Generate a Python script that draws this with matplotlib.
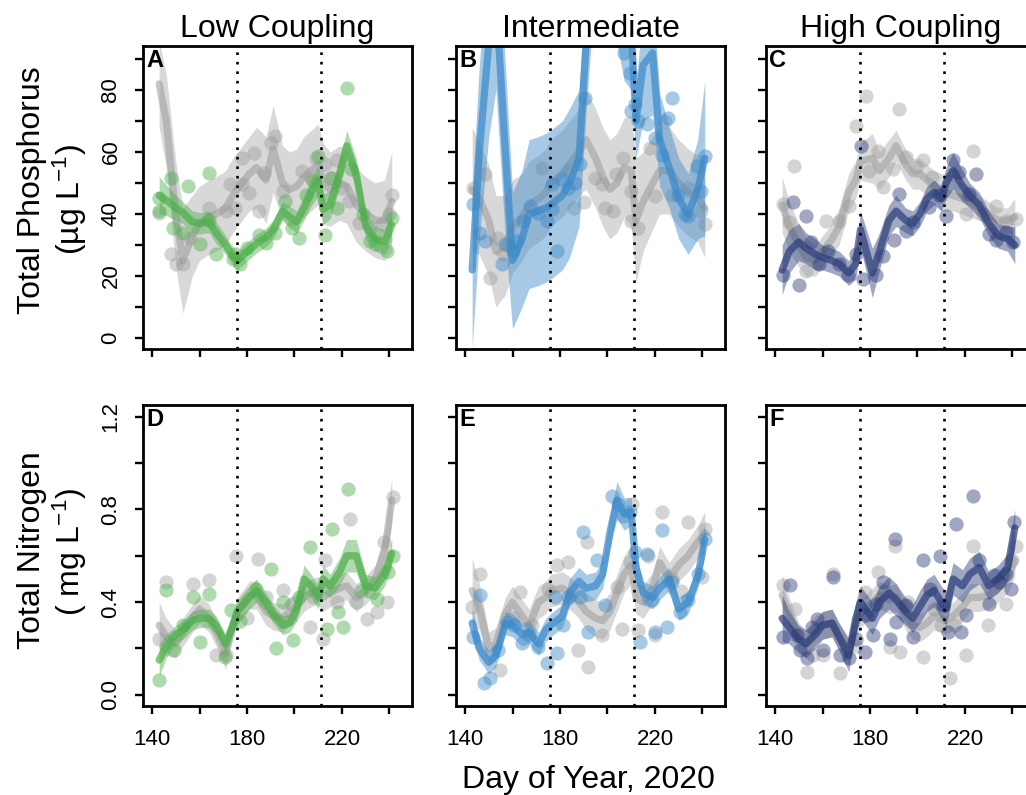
import matplotlib
matplotlib.use("Agg")
import matplotlib.pyplot as plt
import numpy as np

plt.rcParams['font.family'] = ['Liberation Sans', 'DejaVu Sans']
plt.rcParams['mathtext.fontset'] = 'custom'
plt.rcParams['mathtext.rm'] = 'Liberation Sans'
plt.rcParams['mathtext.it'] = 'Liberation Sans'
plt.rcParams['mathtext.default'] = 'regular'

# ---------------- data ----------------
DAYS = [143, 146, 150, 153, 157, 160, 164, 167, 171, 174, 176, 181, 184, 188, 191,
        195, 198, 201, 204, 207, 210, 212, 215, 219, 222, 226, 230, 234, 238, 241]
EVENT_DAYS = [176, 211]
COL_TITLES = ["Low Coupling", "Intermediate", "High Coupling"]
PANEL_LETTERS = ["A", "B", "C", "D", "E", "F"]
TP_TICKS = [0, 10, 20, 30, 40, 50, 60, 70, 80, 90]
TP_LABELS = ["0", "", "20", "", "40", "", "60", "", "80", ""]
TN_TICKS = [0.0, 0.2, 0.4, 0.6, 0.8, 1.0, 1.2]
TN_LABELS = ["0.0", "", "0.4", "", "0.8", "", "1.2"]
X_TICKS = [140, 160, 180, 200, 220, 240]
X_LABELS = ["140", "", "180", "", "220", ""]

# Panel A  (TP, low coupling)
A_ref_mean = [82, 70, 40, 25, 33, 37, 39, 40, 42, 46, 48, 53, 55, 51, 61, 50, 48, 49, 52, 54, 56, 50, 48, 50, 49, 43, 40, 38, 38, 44]
A_ref_ci = [14, 15, 17, 17, 13, 12, 12, 12, 12, 12, 12, 12, 13, 14, 14, 12, 12, 12, 13, 13, 13, 13, 12, 12, 12, 12, 12, 12, 13, 16]
A_trt_mean = [46, 44.5, 42, 40.5, 37.5, 37, 37.5, 34, 30, 26.5, 25, 28.5, 30.5, 32.5, 35, 41, 39, 37.5, 42, 47, 51, 41.5, 43, 53, 62, 53, 36, 32, 31, 36.5]
A_trt_ci = [6, 5, 4, 3.5, 3.5, 3.5, 3.5, 3.5, 3, 3, 3, 3, 3, 3, 3, 3, 3.5, 3.5, 4, 4.5, 5, 5, 4.5, 4.5, 5, 5, 4, 4, 4, 5]
A_ref_pt_day = [143, 148, 150, 153, 156, 164, 171, 173, 175, 178, 178, 181, 183, 185, 187, 190, 192, 195, 203, 207, 209, 213, 215, 218, 220, 223, 227, 232, 237, 241, 240]
A_ref_pt_val = [40.4, 27, 23.8, 23.8, 32.4, 42, 41, 49.6, 42, 58.2, 49.6, 46.9, 59.8, 41, 53.3, 63, 65.2, 47.4, 53.9, 51.7, 58.2, 56, 51.7, 57.6, 48.5, 44.2, 37.2, 35.6, 36.7, 46.3, 39.9]
A_trt_pt_day = [143, 143, 148, 155, 164, 149, 153, 160, 164, 167, 174, 177, 175, 180, 185, 188, 192, 196, 199, 202, 205, 208, 210, 213, 216, 218, 222, 224, 229, 232, 234, 239, 241]
A_trt_pt_val = [45.3, 41, 51.7, 49, 53.3, 35.6, 34, 30.2, 38, 27, 25.4, 23.8, 27, 29, 33.4, 30.7, 34, 44.2, 35.6, 32.4, 46.3, 50.6, 58.7, 33.4, 51.7, 42, 80.7, 54.4, 40, 31.3, 30.2, 28.1, 38.8]

# Panel B  (TP, intermediate)
B_ref_mean = [48, 45, 38, 28, 30, 36, 39, 43, 45, 47, 50, 53, 56, 60, 64, 58, 52, 48, 50, 55, 54, 38, 44, 50, 54, 54, 50, 47, 45, 42]
B_ref_ci = [20, 18, 18, 18, 16, 15, 14, 14, 14, 14, 14, 14, 14, 14, 16, 16, 16, 16, 16, 16, 18, 20, 16, 15, 14, 14, 14, 14, 14, 16]
B_trt_mean = [22, 60, 95, 110, 60, 25, 32, 40, 41, 42, 43, 46, 50, 58, 95, 140, 150, 140, 120, 105, 100, 70, 88, 92, 64, 55, 45, 40, 48, 58]
B_trt_ci = [25, 28, 30, 30, 28, 22, 22, 24, 24, 24, 24, 24, 24, 22, 22, 25, 25, 25, 25, 22, 20, 12, 18, 20, 15, 13, 13, 13, 16, 25]
B_ref_pt_day = [143.5, 148.4, 150.5, 154, 156.2, 158, 172.3, 183.5, 186, 190, 194.7, 197.5, 198.9, 202.4, 203.8, 206.6, 210.1, 210.1, 213, 217.9, 220, 224.2, 227, 234, 239.6, 241]
B_ref_pt_val = [48.5, 52.8, 19.5, 32.4, 27, 30, 55, 53.9, 42, 44, 51.7, 49.6, 42, 41, 52.8, 58.2, 47.4, 37.7, 35.6, 61.4, 45.8, 70, 46.3, 48.5, 41, 36.7]
B_trt_pt_day = [143.5, 146.3, 148.4, 155.5, 156.9, 160.4, 161.8, 164.6, 167.4, 170.9, 174.4, 176.5, 176.5, 178.6, 180.7, 183.5, 186.3, 188.4, 190.5, 207, 209.4, 210.1, 211.6, 213, 216.5, 220, 222.8, 225.6, 227, 229.8, 232.6, 234, 237.5, 239.6, 241]
B_trt_pt_val = [43.1, 34, 31.3, 23.8, 30.2, 28.1, 31.3, 37.7, 42.6, 40.4, 37.7, 41.5, 49.6, 28.1, 51.2, 48.5, 50.1, 56, 77.5, 92, 85.6, 73.2, 75.4, 70, 68.9, 64.6, 59.2, 71.1, 77.5, 46.3, 39.9, 39.5, 55.5, 47.4, 58.7]

# Panel C  (TP, high coupling)
C_ref_mean = [43, 36, 30, 26, 25, 28, 32, 36, 47, 51, 57, 58, 54, 58, 62, 56, 53, 53, 51, 49, 47, 47, 46, 45, 44, 42, 40, 38, 38, 39]
C_ref_ci = [9, 8, 7, 6, 5, 5, 5, 6, 6, 6, 6, 8, 6, 6, 5, 5, 5, 5, 5, 5, 6, 6, 5, 5, 5, 4, 4, 4, 4, 6]
C_trt_mean = [22, 28, 31, 29, 27, 26, 25, 24, 21, 24, 35, 21, 28, 38, 41, 38, 37, 40, 45, 47, 45, 50, 54, 49, 46, 43, 37, 33, 32, 30]
C_trt_ci = [8, 7, 6, 5, 5, 4, 4, 4, 4, 5, 6, 8, 6, 5, 5, 4, 4, 4, 4, 4, 4, 5, 6, 5, 4, 4, 4, 4, 4, 6]
C_ref_pt_day = [143.2, 148.1, 146, 153.1, 161.5, 167.1, 171.3, 174.1, 178.3, 179.7, 183.2, 185.3, 189.5, 192.4, 195.2, 199.4, 202.2, 206, 210, 214.8, 220.4, 223.2, 227.4, 233.1, 237.3, 241.5]
C_ref_pt_val = [43.3, 55.6, 37.4, 21.8, 37.9, 37.9, 42.7, 68.5, 78.2, 54, 60.5, 48.7, 54.6, 73.9, 58.3, 55.1, 57.3, 52, 46, 53, 40.1, 60.5, 40.1, 42.7, 37.9, 38.5]
C_trt_pt_day = [143.2, 147.4, 150.3, 153.1, 155.2, 158.7, 162.2, 167.1, 170.6, 174.1, 176.2, 176.9, 182.5, 185.3, 190.2, 192.4, 195.2, 198, 205, 209.2, 212, 214.8, 217.6, 221.8, 224.6, 230.3, 233.1, 237.3, 240.1]
C_trt_pt_val = [20.2, 43.8, 17, 39.5, 30.9, 24, 28.2, 24, 20.2, 27.2, 62.1, 19.1, 20.2, 26.6, 31.5, 46.5, 34.7, 37.4, 42.2, 46, 39.5, 57.3, 53.5, 46.5, 53, 33.6, 31.5, 34.2, 30.9]

# Panel D  (TN, low coupling)
D_ref_mean = [0.3, 0.25, 0.22, 0.27, 0.33, 0.37, 0.33, 0.27, 0.18, 0.3, 0.36, 0.43, 0.43, 0.36, 0.34, 0.33, 0.36, 0.38, 0.42, 0.44, 0.45, 0.42, 0.44, 0.46, 0.47, 0.42, 0.45, 0.5, 0.62, 0.84]
D_ref_ci = [0.1, 0.08, 0.06, 0.06, 0.06, 0.06, 0.06, 0.06, 0.07, 0.06, 0.06, 0.06, 0.06, 0.06, 0.06, 0.06, 0.06, 0.06, 0.06, 0.06, 0.06, 0.06, 0.06, 0.06, 0.06, 0.06, 0.06, 0.06, 0.08, 0.1]
D_trt_mean = [0.15, 0.21, 0.26, 0.28, 0.32, 0.33, 0.33, 0.3, 0.22, 0.3, 0.36, 0.42, 0.45, 0.4, 0.35, 0.3, 0.31, 0.37, 0.5, 0.47, 0.42, 0.5, 0.47, 0.53, 0.6, 0.6, 0.47, 0.46, 0.52, 0.61]
D_trt_ci = [0.07, 0.05, 0.04, 0.04, 0.04, 0.04, 0.04, 0.04, 0.04, 0.04, 0.05, 0.05, 0.05, 0.04, 0.04, 0.04, 0.04, 0.05, 0.06, 0.05, 0.05, 0.06, 0.05, 0.06, 0.07, 0.07, 0.05, 0.05, 0.05, 0.06]
D_ref_pt_day = [145.9, 143.1, 157.2, 164.2, 167, 171, 175.5, 180, 184.6, 188, 195.2, 199, 206.5, 208, 212.1, 212.8, 218, 223.4, 226, 230.4, 234.6, 237.5, 241.7, 239]
D_ref_pt_val = [0.487, 0.243, 0.48, 0.494, 0.172, 0.17, 0.6, 0.33, 0.587, 0.42, 0.451, 0.39, 0.294, 0.42, 0.243, 0.58, 0.4, 0.759, 0.4, 0.329, 0.358, 0.659, 0.852, 0.4]
D_trt_pt_day = [143.1, 145.9, 149.4, 153, 157.2, 160, 164.2, 170.6, 173.4, 177, 183.9, 190.3, 192.4, 195.2, 199.4, 202, 206.5, 213.5, 215.6, 218.5, 220.6, 222.7, 228, 234.6, 239.5, 241.7]
D_trt_pt_val = [0.064, 0.451, 0.193, 0.3, 0.422, 0.229, 0.437, 0.165, 0.365, 0.32, 0.458, 0.544, 0.2, 0.401, 0.236, 0.42, 0.637, 0.286, 0.716, 0.358, 0.294, 0.888, 0.45, 0.415, 0.53, 0.601]

# Panel E  (TN, intermediate)
E_ref_mean = [0.45, 0.38, 0.2, 0.22, 0.35, 0.4, 0.34, 0.3, 0.4, 0.42, 0.45, 0.46, 0.44, 0.4, 0.36, 0.33, 0.32, 0.36, 0.44, 0.52, 0.56, 0.42, 0.4, 0.46, 0.57, 0.5, 0.56, 0.6, 0.66, 0.7]
E_ref_ci = [0.14, 0.1, 0.07, 0.07, 0.07, 0.07, 0.07, 0.07, 0.07, 0.07, 0.07, 0.07, 0.07, 0.07, 0.08, 0.08, 0.08, 0.08, 0.08, 0.08, 0.08, 0.07, 0.07, 0.07, 0.07, 0.07, 0.07, 0.07, 0.07, 0.09]
E_trt_mean = [0.31, 0.2, 0.14, 0.17, 0.31, 0.3, 0.26, 0.27, 0.22, 0.28, 0.3, 0.34, 0.44, 0.49, 0.46, 0.47, 0.52, 0.7, 0.84, 0.78, 0.79, 0.55, 0.44, 0.42, 0.46, 0.5, 0.37, 0.4, 0.51, 0.67]
E_trt_ci = [0.06, 0.05, 0.05, 0.05, 0.05, 0.05, 0.05, 0.05, 0.05, 0.05, 0.05, 0.05, 0.06, 0.06, 0.06, 0.06, 0.06, 0.07, 0.08, 0.07, 0.06, 0.06, 0.05, 0.05, 0.05, 0.05, 0.05, 0.05, 0.05, 0.07]
E_ref_pt_day = [142.8, 146.4, 154.8, 160, 163.2, 168, 175.1, 178.6, 183.5, 187.7, 191.3, 192, 197.6, 203.9, 206, 209.5, 210.2, 213, 217.2, 220, 222.8, 227, 231, 234.1, 239.7, 241]
E_ref_pt_val = [0.379, 0.523, 0.107, 0.33, 0.444, 0.3, 0.458, 0.558, 0.573, 0.193, 0.659, 0.122, 0.258, 0.465, 0.286, 0.573, 0.823, 0.279, 0.601, 0.258, 0.788, 0.5, 0.45, 0.745, 0.508, 0.716]
E_trt_pt_day = [143.5, 146.4, 147.8, 150.6, 154, 157.6, 160.5, 163.9, 167, 170.9, 174.4, 177.9, 178.6, 181.4, 183.5, 188.5, 189.9, 192, 195.5, 199, 201.8, 204.6, 206.7, 209.5, 211.6, 213.7, 216.5, 218.6, 220, 222.8, 225, 227, 230.6, 234.1, 238.3, 241]
E_trt_pt_val = [0.251, 0.43, 0.05, 0.072, 0.193, 0.315, 0.3, 0.222, 0.26, 0.208, 0.136, 0.422, 0.179, 0.301, 0.422, 0.422, 0.702, 0.272, 0.58, 0.387, 0.859, 0.823, 0.773, 0.788, 0.616, 0.229, 0.609, 0.408, 0.272, 0.709, 0.294, 0.487, 0.358, 0.408, 0.523, 0.673]

# Panel F  (TN, high coupling)
F_ref_mean = [0.43, 0.35, 0.25, 0.22, 0.28, 0.3, 0.31, 0.25, 0.19, 0.3, 0.35, 0.4, 0.43, 0.41, 0.42, 0.34, 0.3, 0.29, 0.31, 0.34, 0.33, 0.32, 0.34, 0.38, 0.42, 0.42, 0.43, 0.46, 0.5, 0.58]
F_ref_ci = [0.09, 0.07, 0.06, 0.06, 0.06, 0.06, 0.06, 0.06, 0.06, 0.06, 0.06, 0.06, 0.06, 0.06, 0.06, 0.06, 0.06, 0.06, 0.06, 0.06, 0.06, 0.06, 0.06, 0.06, 0.06, 0.06, 0.06, 0.06, 0.06, 0.07]
F_trt_mean = [0.33, 0.29, 0.24, 0.22, 0.26, 0.3, 0.31, 0.25, 0.17, 0.33, 0.4, 0.33, 0.4, 0.44, 0.41, 0.36, 0.33, 0.38, 0.43, 0.45, 0.4, 0.37, 0.5, 0.47, 0.52, 0.55, 0.47, 0.5, 0.55, 0.72]
F_trt_ci = [0.1, 0.07, 0.06, 0.06, 0.06, 0.06, 0.06, 0.06, 0.07, 0.07, 0.07, 0.07, 0.07, 0.07, 0.07, 0.06, 0.06, 0.07, 0.07, 0.07, 0.07, 0.07, 0.07, 0.07, 0.07, 0.07, 0.06, 0.06, 0.06, 0.08]
F_ref_pt_day = [143.2, 148.4, 153.3, 156, 160.3, 164.5, 167.3, 174, 177.8, 183.4, 186, 188.3, 190.4, 192.5, 196, 202.3, 207, 210, 213.5, 216, 220.5, 223.3, 229.6, 237.3, 241.5, 240]
F_ref_pt_val = [0.472, 0.372, 0.1, 0.17, 0.172, 0.523, 0.093, 0.21, 0.444, 0.53, 0.45, 0.208, 0.644, 0.186, 0.4, 0.165, 0.37, 0.3, 0.072, 0.3, 0.172, 0.644, 0.301, 0.394, 0.644, 0.58]
F_trt_pt_day = [143.2, 146.3, 149.1, 150.5, 153.3, 155.4, 157.5, 160.3, 164.5, 167.3, 171.2, 174.3, 177.8, 178.5, 181.3, 182.7, 185.5, 188.3, 190.4, 191.1, 195.3, 198.1, 202.3, 205.1, 209.3, 210.7, 212.8, 216.3, 218.4, 220.5, 223.3, 226.1, 230.3, 232.4, 234.5, 237.3, 239.4, 240.8]
F_trt_pt_val = [0.251, 0.472, 0.258, 0.193, 0.158, 0.294, 0.329, 0.193, 0.508, 0.172, 0.158, 0.243, 0.186, 0.344, 0.258, 0.394, 0.487, 0.243, 0.673, 0.315, 0.387, 0.251, 0.58, 0.458, 0.601, 0.387, 0.272, 0.738, 0.272, 0.344, 0.859, 0.58, 0.394, 0.516, 0.487, 0.523, 0.458, 0.745]

# ---------------- styling ----------------
GRAY = "#9a9a9a"
COLORS = ["#4DAF4A", "#3A89C9", "#2B3D7A"]

panels = [
    (A_ref_mean, A_ref_ci, A_trt_mean, A_trt_ci, A_ref_pt_day, A_ref_pt_val, A_trt_pt_day, A_trt_pt_val),
    (B_ref_mean, B_ref_ci, B_trt_mean, B_trt_ci, B_ref_pt_day, B_ref_pt_val, B_trt_pt_day, B_trt_pt_val),
    (C_ref_mean, C_ref_ci, C_trt_mean, C_trt_ci, C_ref_pt_day, C_ref_pt_val, C_trt_pt_day, C_trt_pt_val),
    (D_ref_mean, D_ref_ci, D_trt_mean, D_trt_ci, D_ref_pt_day, D_ref_pt_val, D_trt_pt_day, D_trt_pt_val),
    (E_ref_mean, E_ref_ci, E_trt_mean, E_trt_ci, E_ref_pt_day, E_ref_pt_val, E_trt_pt_day, E_trt_pt_val),
    (F_ref_mean, F_ref_ci, F_trt_mean, F_trt_ci, F_ref_pt_day, F_ref_pt_val, F_trt_pt_day, F_trt_pt_val),
]

W, H = 1026, 795
fig = plt.figure(figsize=(W / 100, H / 100), dpi=100)

col_left = [143, 456, 766]
ax_w = 269
rows = [(46, 349), (405, 706)]

days = np.array(DAYS, dtype=float)
for i, pdata in enumerate(panels):
    r, c = divmod(i, 3)
    top, bot = rows[r]
    ax = fig.add_axes([col_left[c] / W, (H - bot) / H, ax_w / W, (bot - top) / H])
    rm, rci, tm, tci, rpd, rpv, tpd, tpv = [np.array(a, dtype=float) for a in pdata]
    col = COLORS[c]
    # reference (gray)
    ax.fill_between(days, rm - rci, rm + rci, color=GRAY, alpha=0.38, lw=0, zorder=1)
    ax.plot(days, rm, color=GRAY, alpha=0.55, lw=5.2, solid_capstyle='round', solid_joinstyle='round', zorder=2)
    ax.scatter(rpd, rpv, s=105, color=GRAY, alpha=0.42, lw=0, zorder=3)
    # treatment (coloured)
    ax.fill_between(days, tm - tci, tm + tci, color=col, alpha=0.45, lw=0, zorder=4)
    ax.plot(days, tm, color=col, alpha=0.7, lw=5.2, solid_capstyle='round', solid_joinstyle='round', zorder=5)
    ax.scatter(tpd, tpv, s=105, color=col, alpha=0.45, lw=0, zorder=6)
    for d in EVENT_DAYS:
        ax.axvline(d, color='black', ls=(0, (1, 2.6)), lw=1.9, zorder=7)

    ax.set_xlim(136.2, 249.5)
    ax.set_xticks(X_TICKS)
    if r == 0:
        ax.set_ylim(-3.5, 94.2)
        ax.set_yticks(TP_TICKS)
        ax.set_yticklabels(TP_LABELS if c == 0 else [""] * len(TP_TICKS))
        ax.set_xticklabels([""] * len(X_TICKS))
        ax.set_title(COL_TITLES[c], fontsize=23, pad=6.5)
    else:
        ax.set_ylim(-0.048, 1.25)
        ax.set_yticks(TN_TICKS)
        ax.set_yticklabels(TN_LABELS if c == 0 else [""] * len(TN_TICKS))
        ax.set_xticklabels(X_LABELS)
    ax.tick_params(axis='both', direction='out', length=5.5, width=1.7, labelsize=16, colors='black')
    ax.tick_params(axis='y', pad=10, labelrotation=90)
    ax.tick_params(axis='x', pad=11)
    for lab in ax.get_yticklabels():
        lab.set_va('center')
    for sp in ax.spines.values():
        sp.set_linewidth(2.0)
        sp.set_zorder(10)
    ax.annotate(PANEL_LETTERS[i], xy=(0, 1), xycoords='axes fraction', xytext=(2.5, -2),
                textcoords='offset points', ha='left', va='top', fontsize=17,
                fontweight='bold', zorder=11)

# axis labels
fig.text(588 / W, (H - 788) / H, "Day of Year, 2020", ha='center', va='baseline', fontsize=23)
fig.text(32 / W, (H - 190) / H, "Total Phosphorus", rotation=90, ha='center', va='center', fontsize=23)
fig.text(70 / W, (H - 199) / H, "(\u00b5g L$^{-1}$)", rotation=90, ha='center', va='center', fontsize=23)
fig.text(32 / W, (H - 550) / H, "Total Nitrogen", rotation=90, ha='center', va='center', fontsize=23)
fig.text(70 / W, (H - 552) / H, "( mg L$^{-1}$)", rotation=90, ha='center', va='center', fontsize=23)

fig.savefig("out.png", dpi=100)
